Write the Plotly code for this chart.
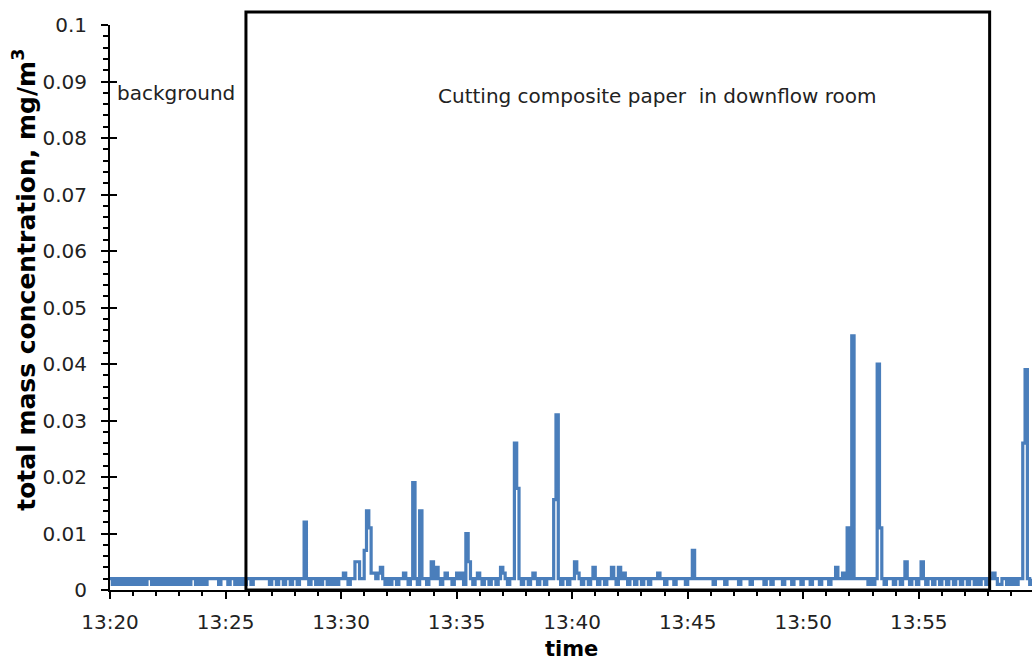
import plotly.graph_objects as go
from datetime import datetime, timedelta

# Logger start time and sampling interval (6 s readings)
START = datetime(2000, 1, 1, 13, 20, 0)
SAMPLE_SECONDS = 6

# Total mass concentration readings in ug/m3, one row of ten 6-s readings per minute
readings_ug = [
    [2, 1, 2, 1, 2, 1, 2, 1, 2, 1],      # 13:20
    [2, 1, 2, 1, 2, 1, 2, 2, 1, 2],      # 13:21
    [1, 2, 1, 2, 1, 2, 1, 2, 1, 2],      # 13:22
    [1, 2, 1, 2, 1, 2, 2, 1, 2, 1],      # 13:23
    [2, 1, 2, 2, 2, 2, 2, 1, 2, 2],      # 13:24
    [2, 1, 2, 2, 1, 2, 1, 2, 1, 2],      # 13:25
    [2, 1, 2, 2, 2, 2, 2, 2, 2, 1],      # 13:26
    [2, 2, 1, 2, 2, 1, 2, 2, 1, 2],      # 13:27
    [2, 1, 2, 2, 12, 2, 1, 2, 2, 1],     # 13:28
    [2, 1, 2, 2, 1, 2, 1, 2, 1, 2],      # 13:29
    [2, 3, 2, 1, 2, 2, 5, 5, 2, 2],      # 13:30
    [7, 14, 11, 3, 3, 2, 3, 4, 2, 1],    # 13:31
    [2, 1, 2, 2, 1, 2, 2, 3, 2, 1],      # 13:32
    [2, 19, 2, 1, 14, 2, 2, 1, 2, 5],    # 13:33
    [2, 4, 2, 1, 2, 3, 2, 2, 1, 2],      # 13:34
    [3, 2, 3, 1, 10, 5, 2, 1, 2, 3],     # 13:35
    [2, 1, 2, 2, 1, 2, 2, 1, 2, 4],      # 13:36
    [3, 2, 1, 2, 2, 26, 18, 2, 1, 2],    # 13:37
    [2, 1, 2, 3, 2, 1, 2, 2, 1, 2],      # 13:38
    [2, 2, 16, 31, 2, 1, 2, 2, 1, 2],    # 13:39
    [2, 5, 3, 2, 1, 2, 2, 1, 2, 4],      # 13:40
    [2, 1, 2, 2, 1, 2, 2, 4, 2, 1],      # 13:41
    [4, 2, 3, 2, 1, 2, 2, 1, 2, 2],      # 13:42
    [1, 2, 2, 1, 2, 2, 2, 3, 2, 2],      # 13:43
    [1, 2, 2, 2, 1, 2, 2, 2, 2, 1],      # 13:44
    [2, 2, 7, 2, 2, 2, 2, 2, 2, 2],      # 13:45
    [2, 1, 2, 2, 2, 2, 1, 2, 2, 2],      # 13:46
    [2, 2, 1, 2, 2, 2, 2, 1, 2, 2],      # 13:47
    [2, 2, 2, 1, 2, 2, 1, 2, 2, 2],      # 13:48
    [2, 1, 2, 2, 2, 1, 2, 2, 2, 1],      # 13:49
    [2, 2, 2, 1, 2, 2, 2, 1, 2, 2],      # 13:50
    [2, 1, 2, 2, 4, 2, 2, 3, 2, 11],     # 13:51
    [2, 45, 2, 2, 2, 2, 2, 2, 1, 2],     # 13:52
    [1, 2, 40, 11, 2, 1, 2, 2, 2, 1],    # 13:53
    [2, 2, 1, 2, 5, 2, 1, 2, 2, 1],      # 13:54
    [2, 5, 2, 1, 2, 2, 1, 2, 2, 1],      # 13:55
    [2, 2, 1, 2, 2, 1, 2, 2, 1, 2],      # 13:56
    [2, 1, 2, 2, 1, 2, 1, 2, 2, 1],      # 13:57
    [2, 2, 3, 2, 1, 1, 2, 2, 1, 2],      # 13:58
    [1, 2, 1, 2, 2, 26, 39, 2, 1, 2],    # 13:59
]

# Axis ticks
y_tick_values = [0, 0.01, 0.02, 0.03, 0.04, 0.05, 0.06, 0.07, 0.08, 0.09, 0.1]
y_tick_labels = ["0", "0.01", "0.02", "0.03", "0.04", "0.05", "0.06", "0.07", "0.08", "0.09", "0.1"]

# Cutting period (boxed) and annotation texts
cutting_start = START + timedelta(minutes=5, seconds=53)
cutting_end = START + timedelta(minutes=38, seconds=4)
label_background = "background"
label_cutting = "Cutting composite paper  in downflow room"

flat_ug = [v for row in readings_ug for v in row]
times = [START + timedelta(seconds=SAMPLE_SECONDS * i) for i in range(len(flat_ug))]
conc_mg = [v / 1000.0 for v in flat_ug]

FONT = "DejaVu Sans"
TXT = "#222222"

fig = go.Figure()
fig.add_trace(go.Scatter(
    x=times, y=conc_mg, mode="lines",
    line=dict(color="#4A7EBB", width=3.2, shape="hv"),
    showlegend=False, hoverinfo="skip",
))
# empty trace carrying the overlay axis that draws the inward half of major y ticks
fig.add_trace(go.Scatter(x=[], y=[], yaxis="y2", showlegend=False))

x_end = START + timedelta(minutes=39, seconds=54)

fig.update_layout(
    width=1032, height=660,
    margin=dict(l=110, r=0, t=25, b=70),
    plot_bgcolor="white", paper_bgcolor="white",
    showlegend=False,
    xaxis=dict(
        type="date", range=[START, x_end],
        tickformat="%H:%M", tick0=START, dtick=300000,
        ticks="outside", ticklen=7, tickwidth=2, tickcolor="black",
        showline=True, linecolor="black", linewidth=2,
        showgrid=False, zeroline=False,
        minor=dict(dtick=60000, ticks="outside", ticklen=4, tickwidth=2,
                   tickcolor="black", showgrid=False),
        tickfont=dict(family=FONT, size=20, color=TXT),
        ticklabelstandoff=6,
    ),
    yaxis=dict(
        range=[0, 0.1],
        tickmode="array", tickvals=y_tick_values, ticktext=y_tick_labels,
        ticks="outside", ticklen=7, tickwidth=2, tickcolor="black",
        showline=True, linecolor="black", linewidth=2,
        showgrid=False, zeroline=False,
        minor=dict(dtick=0.002, ticks="outside", ticklen=5, tickwidth=1.5,
                   tickcolor="black", showgrid=False),
        tickfont=dict(family=FONT, size=20, color=TXT),
        ticklabelstandoff=10,
    ),
    yaxis2=dict(
        overlaying="y", range=[0, 0.1],
        tickmode="array", tickvals=y_tick_values,
        ticks="inside", ticklen=7, tickwidth=2, tickcolor="black",
        showticklabels=False, showline=False, showgrid=False, zeroline=False,
        side="left",
    ),
)

fig.add_shape(
    type="rect", xref="x", yref="paper",
    x0=cutting_start, x1=cutting_end, y0=0, y1=1.023,
    line=dict(color="black", width=3), fillcolor="rgba(0,0,0,0)", layer="above",
)

fig.add_annotation(
    text=label_background, xref="paper", yref="y", x=0.0054, y=0.088,
    xanchor="left", yanchor="middle", showarrow=False,
    font=dict(family=FONT, size=20, color=TXT),
)
fig.add_annotation(
    text=label_cutting, xref="paper", yref="y", x=0.5933, y=0.0874,
    xanchor="center", yanchor="middle", showarrow=False,
    font=dict(family=FONT, size=20, color=TXT),
)
fig.add_annotation(
    text="<b>total mass concentration, mg/m<sup>3</sup></b>",
    xref="paper", yref="paper", x=-0.0922, y=0.549, textangle=-90,
    xanchor="center", yanchor="middle", showarrow=False,
    font=dict(family=FONT, size=25, color="black"),
)
fig.add_annotation(
    text="<b>time</b>", xref="paper", yref="paper", x=0.5, y=-0.1044,
    xanchor="center", yanchor="middle", showarrow=False,
    font=dict(family=FONT, size=21, color="black"),
)

fig.write_html("out.html")
